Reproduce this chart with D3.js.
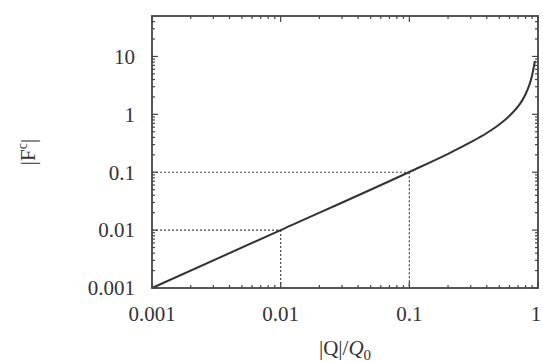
<!DOCTYPE html>
<html>
<head>
<meta charset="utf-8">
<script src="https://d3js.org/d3.v7.min.js"></script>
<style>
  body { margin: 0; background: #fff; }
  text { font-family: "Liberation Serif", "DejaVu Serif", serif; fill: #333; }
</style>
</head>
<body>
<div id="chart-area"></div>
<script>
  // Curve: |Q|/Q0 against |F^c|
  var qValues = [0.001, 0.01, 0.1, 0.2, 0.3, 0.4, 0.5, 0.6, 0.7, 0.75, 0.8, 0.85, 0.88, 0.9, 0.92, 0.935, 0.945];
  var fValues = [0.001, 0.01, 0.101, 0.208, 0.33, 0.476, 0.667, 0.94, 1.37, 1.71, 2.22, 3.07, 3.90, 4.74, 6.0, 7.2, 8.4];
  // dotted guide lines
  var guides = [0.01, 0.1];
  var xTicks = [0.001, 0.01, 0.1, 1];
  var xTickLabels = ['0.001', '0.01', '0.1', '1'];
  var yTicks = [0.001, 0.01, 0.1, 1, 10];
  var yTickLabels = ['0.001', '0.01', '0.1', '1', '10'];

  var W = 543, H = 362;
  var margin = {left: 152, right: 5, top: 16, bottom: 74};
  var width = W - margin.left - margin.right,
      height = H - margin.top - margin.bottom;

  var svg = d3.select('#chart-area').append('svg')
      .attr('width', W).attr('height', H);
  var g = svg.append('g')
      .attr('transform', 'translate(' + margin.left + ',' + margin.top + ')');

  var x = d3.scaleLog().domain([0.001, 1]).range([0, width]);
  var y = d3.scaleLog().domain([0.001, 50]).range([height, 0]);

  // minor ticks 2..9 in each decade
  function minors(lo, hi) {
    var out = [];
    for (var e = lo; e < hi; e *= 10) {
      for (var k = 2; k <= 9; k++) out.push(e * k);
    }
    return out;
  }
  var xMinor = minors(0.001, 1);
  var yMinor = minors(0.001, 10).concat([20, 30, 40]);

  var tickColor = '#444';
  var major = 6, minor = 3;

  var ticks = g.append('g').attr('stroke', tickColor).attr('stroke-width', 1.2);
  xTicks.forEach(function (v) {
    ticks.append('line').attr('x1', x(v)).attr('x2', x(v)).attr('y1', height).attr('y2', height - major);
    ticks.append('line').attr('x1', x(v)).attr('x2', x(v)).attr('y1', 0).attr('y2', major);
  });
  xMinor.forEach(function (v) {
    ticks.append('line').attr('x1', x(v)).attr('x2', x(v)).attr('y1', height).attr('y2', height - minor);
    ticks.append('line').attr('x1', x(v)).attr('x2', x(v)).attr('y1', 0).attr('y2', minor);
  });
  yTicks.forEach(function (v) {
    ticks.append('line').attr('y1', y(v)).attr('y2', y(v)).attr('x1', 0).attr('x2', major);
    ticks.append('line').attr('y1', y(v)).attr('y2', y(v)).attr('x1', width).attr('x2', width - major);
  });
  yMinor.forEach(function (v) {
    ticks.append('line').attr('y1', y(v)).attr('y2', y(v)).attr('x1', 0).attr('x2', minor);
    ticks.append('line').attr('y1', y(v)).attr('y2', y(v)).attr('x1', width).attr('x2', width - minor);
  });

  // dotted guides
  guides.forEach(function (v) {
    g.append('line')
      .attr('x1', 0).attr('x2', x(v)).attr('y1', y(v)).attr('y2', y(v))
      .attr('stroke', '#444').attr('stroke-width', 1.2).attr('stroke-dasharray', '2,2');
    g.append('line')
      .attr('x1', x(v)).attr('x2', x(v)).attr('y1', y(v)).attr('y2', height)
      .attr('stroke', '#444').attr('stroke-width', 1.2).attr('stroke-dasharray', '2,2');
  });

  // curve
  var data = qValues.map(function (q, i) { return {q: q, f: fValues[i]}; });
  var line = d3.line()
      .x(function (d) { return x(d.q); })
      .y(function (d) { return y(d.f); })
      .curve(d3.curveMonotoneX);
  g.append('path')
    .attr('d', line(data))
    .attr('fill', 'none')
    .attr('stroke', '#333')
    .attr('stroke-width', 2);

  // frame
  g.append('rect')
    .attr('width', width).attr('height', height)
    .attr('fill', 'none').attr('stroke', '#444').attr('stroke-width', 1.8);

  // tick labels
  xTicks.forEach(function (v, i) {
    g.append('text')
      .attr('x', x(v) - (v === 1 ? 2 : 0)).attr('y', height + 33)
      .attr('text-anchor', 'middle').attr('font-size', '21px')
      .text(xTickLabels[i]);
  });
  yTicks.forEach(function (v, i) {
    g.append('text')
      .attr('x', -17).attr('y', y(v)).attr('dy', '0.35em')
      .attr('text-anchor', 'end').attr('font-size', '21px')
      .text(yTickLabels[i]);
  });

  // axis titles
  var xLabel = svg.append('text')
    .attr('x', margin.left + width / 2).attr('y', 355)
    .attr('text-anchor', 'middle').attr('font-size', '21px');
  xLabel.append('tspan').text('|Q|/');
  xLabel.append('tspan').attr('font-style', 'italic').text('Q');
  xLabel.append('tspan').attr('font-size', '15px').attr('dy', '5').text('0');

  var yLabel = svg.append('text')
    .attr('transform', 'translate(35,152) rotate(-90)')
    .attr('text-anchor', 'middle').attr('font-size', '21px');
  yLabel.append('tspan').text('|F');
  yLabel.append('tspan').attr('font-size', '14px').attr('dy', '-8').text('c');
  yLabel.append('tspan').attr('dy', '8').text('|');
</script>
</body>
</html>
